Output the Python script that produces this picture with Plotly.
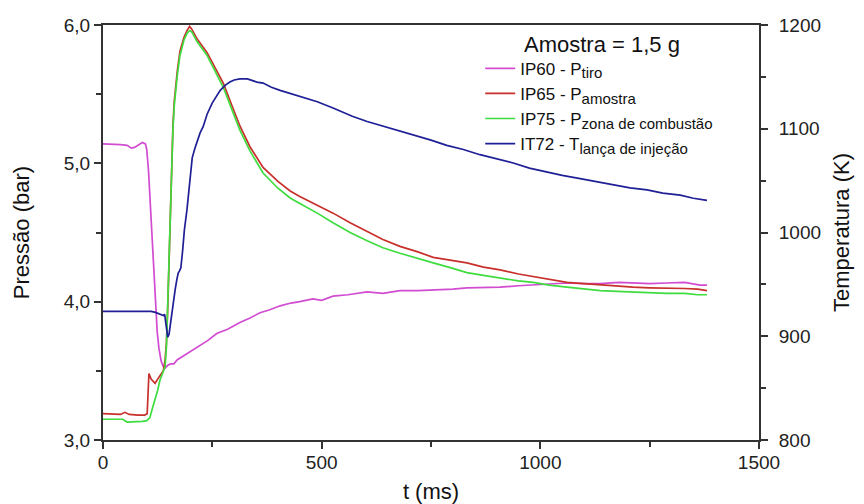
import plotly.graph_objects as go

# ---- data ----
t_p60 = [0, 20, 40, 55, 65, 72, 80, 90, 97, 100, 104, 108, 112, 116, 120, 124, 128, 133, 138, 142,
         148, 155, 162, 170, 180, 190, 200, 210, 222, 240, 260, 285, 313, 335, 359, 380, 405, 430, 450,
         480, 500, 526, 560, 604, 640, 679, 720, 755, 800, 832, 870, 908, 950, 984, 1020, 1061, 1100,
         1137, 1180, 1212, 1250, 1289, 1330, 1365, 1381]
p60 = [5.14, 5.14, 5.135, 5.13, 5.11, 5.115, 5.13, 5.15, 5.14, 5.10, 4.95, 4.70, 4.45, 4.20, 3.95, 3.78,
       3.66, 3.57, 3.53, 3.52, 3.54, 3.55, 3.55, 3.58, 3.60, 3.62, 3.64, 3.66, 3.69, 3.72, 3.77, 3.80,
       3.85, 3.88, 3.92, 3.94, 3.97, 3.99, 4.00, 4.02, 4.01, 4.04, 4.05, 4.07, 4.06, 4.08, 4.08, 4.085,
       4.09, 4.10, 4.10, 4.105, 4.115, 4.12, 4.125, 4.135, 4.13, 4.13, 4.14, 4.135, 4.13, 4.135, 4.14,
       4.12, 4.12]

t_p65 = [0, 20, 40, 50, 60, 80, 95, 101, 103, 105, 110, 119, 125, 132, 138, 142, 145, 148, 151, 154,
         157, 160, 163, 166, 170, 176, 185, 192, 198, 203, 215, 238, 255, 275, 297, 313, 336, 366, 400,
         428, 450, 490, 526, 565, 604, 640, 679, 720, 755, 790, 832, 870, 908, 950, 984, 1020, 1061,
         1100, 1137, 1175, 1212, 1250, 1289, 1330, 1360, 1381]
p65 = [3.19, 3.19, 3.185, 3.20, 3.185, 3.18, 3.18, 3.19, 3.30, 3.48, 3.44, 3.41, 3.44, 3.47, 3.50, 3.58,
       3.70, 3.95, 4.30, 4.70, 5.00, 5.28, 5.45, 5.55, 5.67, 5.81, 5.91, 5.96, 5.99, 5.97, 5.90, 5.80,
       5.70, 5.58, 5.40, 5.27, 5.12, 4.97, 4.87, 4.80, 4.76, 4.70, 4.64, 4.57, 4.51, 4.45, 4.40, 4.36,
       4.32, 4.30, 4.28, 4.25, 4.23, 4.20, 4.18, 4.16, 4.14, 4.13, 4.12, 4.11, 4.105, 4.10, 4.10, 4.095,
       4.09, 4.08]

t_p75 = [0, 20, 35, 45, 55, 70, 90, 100, 107, 113, 119, 125, 130, 136, 142, 145, 147, 149, 153, 157,
         160, 163, 166, 170, 176, 185, 192, 198, 203, 215, 238, 255, 275, 297, 313, 336, 366, 400, 428,
         450, 490, 526, 565, 604, 640, 679, 720, 755, 790, 832, 870, 908, 950, 984, 1020, 1061, 1100,
         1137, 1175, 1212, 1250, 1289, 1330, 1360, 1381]
p75 = [3.15, 3.15, 3.145, 3.15, 3.13, 3.13, 3.135, 3.14, 3.16, 3.23, 3.29, 3.36, 3.43, 3.48, 3.53, 3.67,
       3.90, 4.16, 4.60, 5.00, 5.25, 5.42, 5.52, 5.64, 5.78, 5.89, 5.94, 5.96, 5.95, 5.88, 5.78, 5.67,
       5.55, 5.37, 5.24, 5.09, 4.93, 4.82, 4.75, 4.71, 4.64, 4.57, 4.50, 4.44, 4.39, 4.35, 4.31, 4.28,
       4.25, 4.21, 4.19, 4.17, 4.15, 4.14, 4.12, 4.105, 4.09, 4.08, 4.075, 4.07, 4.065, 4.06, 4.06,
       4.05, 4.05]

t_t72 = [0, 40, 80, 110, 120, 130, 138, 141, 143, 145, 148, 151, 154, 157, 161, 165, 169, 172, 175,
         178, 182, 186, 192, 198, 204, 210, 215, 222, 229, 238, 250, 260, 268, 280, 290, 300, 313, 330,
         352, 366, 385, 405, 428, 450, 490, 526, 570, 604, 633, 670, 709, 750, 786, 824, 862, 900, 938,
         975, 1015, 1050, 1091, 1130, 1167, 1205, 1244, 1280, 1320, 1350, 1381]
t72 = [924, 924, 924.5, 924, 923, 921, 920, 921, 913, 905, 899, 902, 912, 922, 935, 945, 955, 961, 963,
       966, 982, 1002, 1022, 1050, 1072, 1081, 1088, 1096, 1102, 1114, 1125, 1131, 1137, 1142, 1145,
       1147, 1148, 1148, 1145, 1144, 1140, 1137, 1134, 1131, 1126, 1120, 1112, 1107, 1103.5, 1099, 1094,
       1089, 1084, 1080, 1075, 1071, 1067, 1062, 1058, 1055, 1052, 1049, 1046, 1043, 1041, 1038, 1036,
       1033, 1031]

SUB = "<sub><span style='font-size:15px'>{}</span></sub>"
names = ["IP60 - P" + SUB.format("tiro"),
         "IP65 - P" + SUB.format("amostra"),
         "IP75 - P" + SUB.format("zona de combustão"),
         "IT72 - T" + SUB.format("lança de injeção")]
colors = ["#d24cd2", "#c8302c", "#3fdc3f", "#1f1f96"]

x_ticks = [0, 500, 1000, 1500]
x_ticktext = ["0", "500", "1000", "1500"]
x_minor = [250, 750, 1250]
p_ticks = [3, 4, 5, 6]
p_ticktext = ["3,0", "4,0", "5,0", "6,0"]
p_minor = [3.5, 4.5, 5.5]
temp_ticks = [800, 900, 1000, 1100, 1200]
temp_ticktext = ["800", "900", "1000", "1100", "1200"]
temp_minor = [850, 950, 1050, 1150]

FONT = "Arial, Liberation Sans, sans-serif"
AX = "#333333"

fig = go.Figure()
for tx, vals, nm, col, ax in [(t_p60, p60, names[0], colors[0], "y"),
                              (t_p65, p65, names[1], colors[1], "y"),
                              (t_p75, p75, names[2], colors[2], "y"),
                              (t_t72, t72, names[3], colors[3], "y2")]:
    fig.add_trace(go.Scatter(x=tx, y=vals, mode="lines", name=nm, yaxis=ax,
                             line=dict(color=col, width=1.7)))

tick_common = dict(showgrid=False, zeroline=False, showline=True, linecolor=AX, linewidth=2,
                   ticks="outside", ticklen=7, tickwidth=1.5, tickcolor=AX,
                   tickfont=dict(size=19, color="#222222"), automargin=False)

fig.update_layout(
    width=864, height=504,
    margin=dict(l=103, r=105, t=25, b=64, autoexpand=False),
    paper_bgcolor="white", plot_bgcolor="white",
    font=dict(family=FONT, size=18, color="#222222"),
    showlegend=True,
    legend=dict(x=0.575, y=0.938, xanchor="left", yanchor="top",
                bgcolor="rgba(0,0,0,0)", font=dict(size=17, color="#111111"),
                tracegroupgap=0, itemwidth=30),
    xaxis=dict(range=[0, 1500], tickmode="array", tickvals=x_ticks, ticktext=x_ticktext,
               mirror=True, ticklabelstandoff=-3,
               minor=dict(tickvals=x_minor, ticks="outside", ticklen=5, tickwidth=1.5, tickcolor=AX),
               title=dict(text="t (ms)", font=dict(size=22, color="#111111"), standoff=12),
               **tick_common),
    yaxis=dict(range=[3, 6], tickmode="array", tickvals=p_ticks, ticktext=p_ticktext,
               minor=dict(tickvals=p_minor, ticks="outside", ticklen=5, tickwidth=1.5, tickcolor=AX),
               title=dict(text="Pressão (bar)", font=dict(size=22, color="#111111"), standoff=28),
               **tick_common),
    yaxis2=dict(range=[800, 1200], overlaying="y", side="right", anchor="x",
                tickmode="array", tickvals=temp_ticks, ticktext=temp_ticktext,
                ticklabelstandoff=7,
                minor=dict(tickvals=temp_minor, ticks="outside", ticklen=5, tickwidth=1.5, tickcolor=AX),
                title=dict(text="Temperatura (K)", font=dict(size=22, color="#111111"), standoff=14),
                **tick_common),
    annotations=[dict(text="Amostra = 1,5 g", xref="paper", yref="paper",
                      x=0.6387, y=0.952, xanchor="left", yanchor="middle", showarrow=False,
                      font=dict(size=22, color="#111111"))],
)

fig.write_html("out.html", config={"displayModeBar": False},
               post_script="document.body.style.margin='0';document.body.style.padding='0';")
